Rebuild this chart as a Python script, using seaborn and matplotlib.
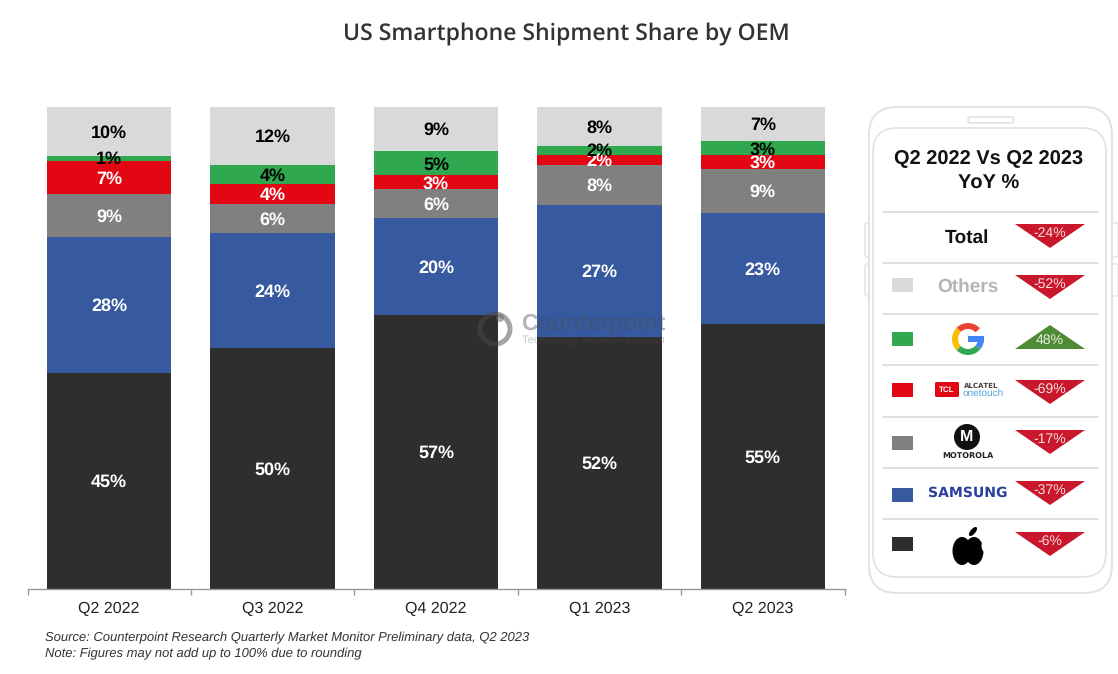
import matplotlib
matplotlib.use("Agg")
import matplotlib.pyplot as plt
from matplotlib.patches import FancyBboxPatch, Polygon, Rectangle, Circle, Wedge, Ellipse
import numpy as np
import pandas as pd
import seaborn as sns

quarters = ["Q2 2022", "Q3 2022", "Q4 2022", "Q1 2023", "Q2 2023"]
apple = [44.8, 50.0, 56.8, 52.3, 55.0]
samsung = [28.2, 23.9, 20.1, 27.4, 23.0]
motorola = [8.9, 6.0, 6.0, 8.3, 9.1]
tcl = [7.0, 4.1, 2.9, 2.1, 2.9]
google = [1.0, 4.0, 5.0, 1.9, 2.9]
others = [10.1, 12.0, 9.2, 8.0, 7.1]
yoy_names = ["Total", "Others", "Google", "TCL", "Motorola", "Samsung", "Apple"]
yoy_values = [-24, -52, 48, -69, -17, -37, -6]

W, H = 1118, 674
sns.set_theme(style="white")
plt.rcParams["font.family"] = ["Liberation Sans", "DejaVu Sans"]
plt.rcParams["text.hinting"] = "none"
plt.rcParams["text.hinting_factor"] = 1
fig = plt.figure(figsize=(W / 100, H / 100), dpi=100, facecolor="white")

ax = fig.add_axes([27.5 / W, 1 - 589 / H, (844.5 - 27.5) / W, (589 - 107) / H])
series = [("Apple", apple, "#2E2E2E", "white"),
          ("Samsung", samsung, "#36599F", "white"),
          ("Motorola", motorola, "#808080", "white"),
          ("TCL", tcl, "#E30613", "white"),
          ("Google", google, "#2FA84F", "black"),
          ("Others", others, "#D9D9D9", "black")]
bottom = np.zeros(len(quarters))
for name, vals, col, tcol in series:
    df = pd.DataFrame({"quarter": quarters, "share": vals})
    n0 = len(ax.patches)
    sns.barplot(data=df, x="quarter", y="share", color=col, saturation=1, width=0.762,
                bottom=bottom, errorbar=None, ax=ax, linewidth=0)
    for i, p in enumerate(ax.patches[n0:]):
        ax.text(p.get_x() + p.get_width() / 2, bottom[i] + vals[i] / 2 - 0.3,
                f"{round(vals[i])}%", ha="center", va="center", color=tcol,
                fontsize=12.8, fontweight="bold", zorder=6)
    bottom = bottom + np.array(vals)
ax.set_xlim(-0.5, 4.5)
ax.set_ylim(0, 100)
ax.set_xlabel("")
ax.set_ylabel("")
ax.set_yticks([])
ax.patch.set_alpha(0)
for s in ("top", "left", "right"):
    ax.spines[s].set_visible(False)
ax.spines["bottom"].set_color("#999999")
ax.spines["bottom"].set_linewidth(1.0)
ax.set_xticks(range(5), quarters)
ax.tick_params(axis="x", which="major", length=0, pad=9.2, labelsize=11.2, labelcolor="#222222")
ax.set_xticks(np.arange(-0.5, 5, 1), minor=True)
ax.tick_params(axis="x", which="minor", length=4, width=1, color="#999999", bottom=True)

# pixel-space overlay for title, notes, watermark and the phone panel
ov = fig.add_axes([0, 0, 1, 1], zorder=5)
ov.set_xlim(0, W)
ov.set_ylim(H, 0)
ov.axis("off")
ov.patch.set_alpha(0)

ov.text(566, 34.5, "US Smartphone Shipment Share by OEM", ha="center", va="center",
        family="Open Sans", fontsize=16.7, fontweight="semibold", color="#333333")
ov.text(45, 637.5, "Source: Counterpoint Research Quarterly Market Monitor Preliminary data, Q2 2023",
        style="italic", fontsize=9.5, color="#333333", va="center")
ov.text(45, 653.5, "Note: Figures may not add up to 100% due to rounding",
        style="italic", fontsize=9.5, color="#333333", va="center")

# watermark
ov.add_patch(Circle((495, 329), 15, fill=False, ec="#4A4A4A", lw=3.6, alpha=0.5))
ov.add_patch(Circle((500, 318), 4, fc="#666666", ec="none", alpha=0.55))
ov.text(521, 324, "Counterpoint", fontsize=16.5, fontweight="bold", color="#4A5058", alpha=0.42, va="center")
ov.text(522, 341, "Technology Market Research", fontsize=8, color="#4A5058", alpha=0.32, va="center")

# phone
edge = "#E2E2E2"
def rrect(x0, y0, x1, y1, r, **kw):
    ov.add_patch(FancyBboxPatch((x0 + r, y0 + r), x1 - x0 - 2 * r, y1 - y0 - 2 * r,
                                boxstyle=f"round,pad={r},rounding_size={r}", **kw))
for y0, y1 in ((223, 257), (264, 296)):
    rrect(865, y0, 871, y1, 2, fc="white", ec=edge, lw=1)
    rrect(1110, y0, 1118, y1, 2, fc="white", ec=edge, lw=1)
rrect(869, 107, 1112, 593, 28, fc="white", ec=edge, lw=1.4)
rrect(873, 128, 1106, 577, 24, fc="white", ec=edge, lw=1.2)
rrect(968, 117, 1014, 123, 3, fc="white", ec=edge, lw=1.2)

ov.text(989, 158.5, "Q2 2022 Vs Q2 2023", ha="center", va="center", fontsize=14.3, fontweight="bold", color="#111111")
ov.text(989, 183.5, "YoY %", ha="center", va="center", fontsize=14.3, fontweight="bold", color="#111111")

for y in (212, 263, 314, 365, 417, 468, 519):
    ov.plot([883, 1098], [y, y], color="#DADADA", lw=1.2)

tops = [224, 275, 325, 380, 430, 481, 532]
for y, v in zip(tops, yoy_values):
    if v < 0:
        ov.add_patch(Polygon([(1015, y), (1085, y), (1050, y + 24)], fc="#C9182B", ec="none"))
        ty = y + 9.5
    else:
        ov.add_patch(Polygon([(1015, y + 24), (1085, y + 24), (1050, y)], fc="#4F8A34", ec="none"))
        ty = y + 15.5
    ov.text(1050, ty, f"{v}%", ha="center", va="center", fontsize=10, color="#F6DDDD" if v < 0 else "#E6F0E0")

swatches = [(278, "#D9D9D9"), (332, "#2FA84F"), (383, "#E30613"), (436, "#808080"), (488, "#36599F"), (537, "#2E2E2E")]
for y, c in swatches:
    ov.add_patch(Rectangle((892, y), 21, 14, fc=c, ec="none"))

ov.text(966.5, 237.5, "Total", ha="center", va="center", fontsize=13.5, fontweight="bold", color="#111111")
ov.text(968, 286.5, "Others", ha="center", va="center", fontsize=13.5, fontweight="bold", color="#B5B5B5")

# Google G (y axis is inverted, so wedge angles run clockwise on screen)
gx, gy = 968, 339
for a0, a1, c in ((-135, -42, "#EA4335"), (135, 225, "#FBBC05"), (40, 135, "#34A853"), (0, 40, "#4285F4")):
    ov.add_patch(Wedge((gx, gy), 16, a0, a1, width=6, fc=c, ec="none"))
ov.add_patch(Rectangle((gx, gy - 3), 16, 6, fc="#4285F4", ec="none"))

# TCL alcatel
rrect(935, 382, 959, 397, 1.5, fc="#E30613", ec="none")
ov.text(947, 389.5, "TCL", ha="center", va="center", fontsize=6, fontweight="bold", color="white")
ov.text(964, 386, "ALCATEL", va="center", fontsize=5, family="DejaVu Sans", fontweight="bold", color="#444444")
ov.text(963, 393.5, "onetouch", va="center", fontsize=6.9, color="#4FA3D9")

# Motorola
ov.add_patch(Circle((967, 437), 13, fc="#111111", ec="none"))
ov.text(967, 436.5, "M", ha="center", va="center", fontsize=11.5, fontweight="bold", color="white")
ov.text(968, 457, "MOTOROLA", ha="center", va="center", fontsize=5.5, family="DejaVu Sans", fontweight="bold", color="#222222")

# Samsung
ov.text(968, 492.5, "SAMSUNG", ha="center", va="center", fontsize=10.2, family="DejaVu Sans", fontweight="bold", color="#2B3F9E")

# Apple
ov.add_patch(Ellipse((962, 551), 19, 28, fc="black", ec="none"))
ov.add_patch(Ellipse((974, 551), 19, 28, fc="black", ec="none"))
ov.add_patch(Ellipse((986, 546), 9, 13, fc="white", ec="none"))
ov.add_patch(Ellipse((973, 531.5), 5, 11, angle=40, fc="black", ec="none"))

fig.savefig("out.png", dpi=100, facecolor="white")
